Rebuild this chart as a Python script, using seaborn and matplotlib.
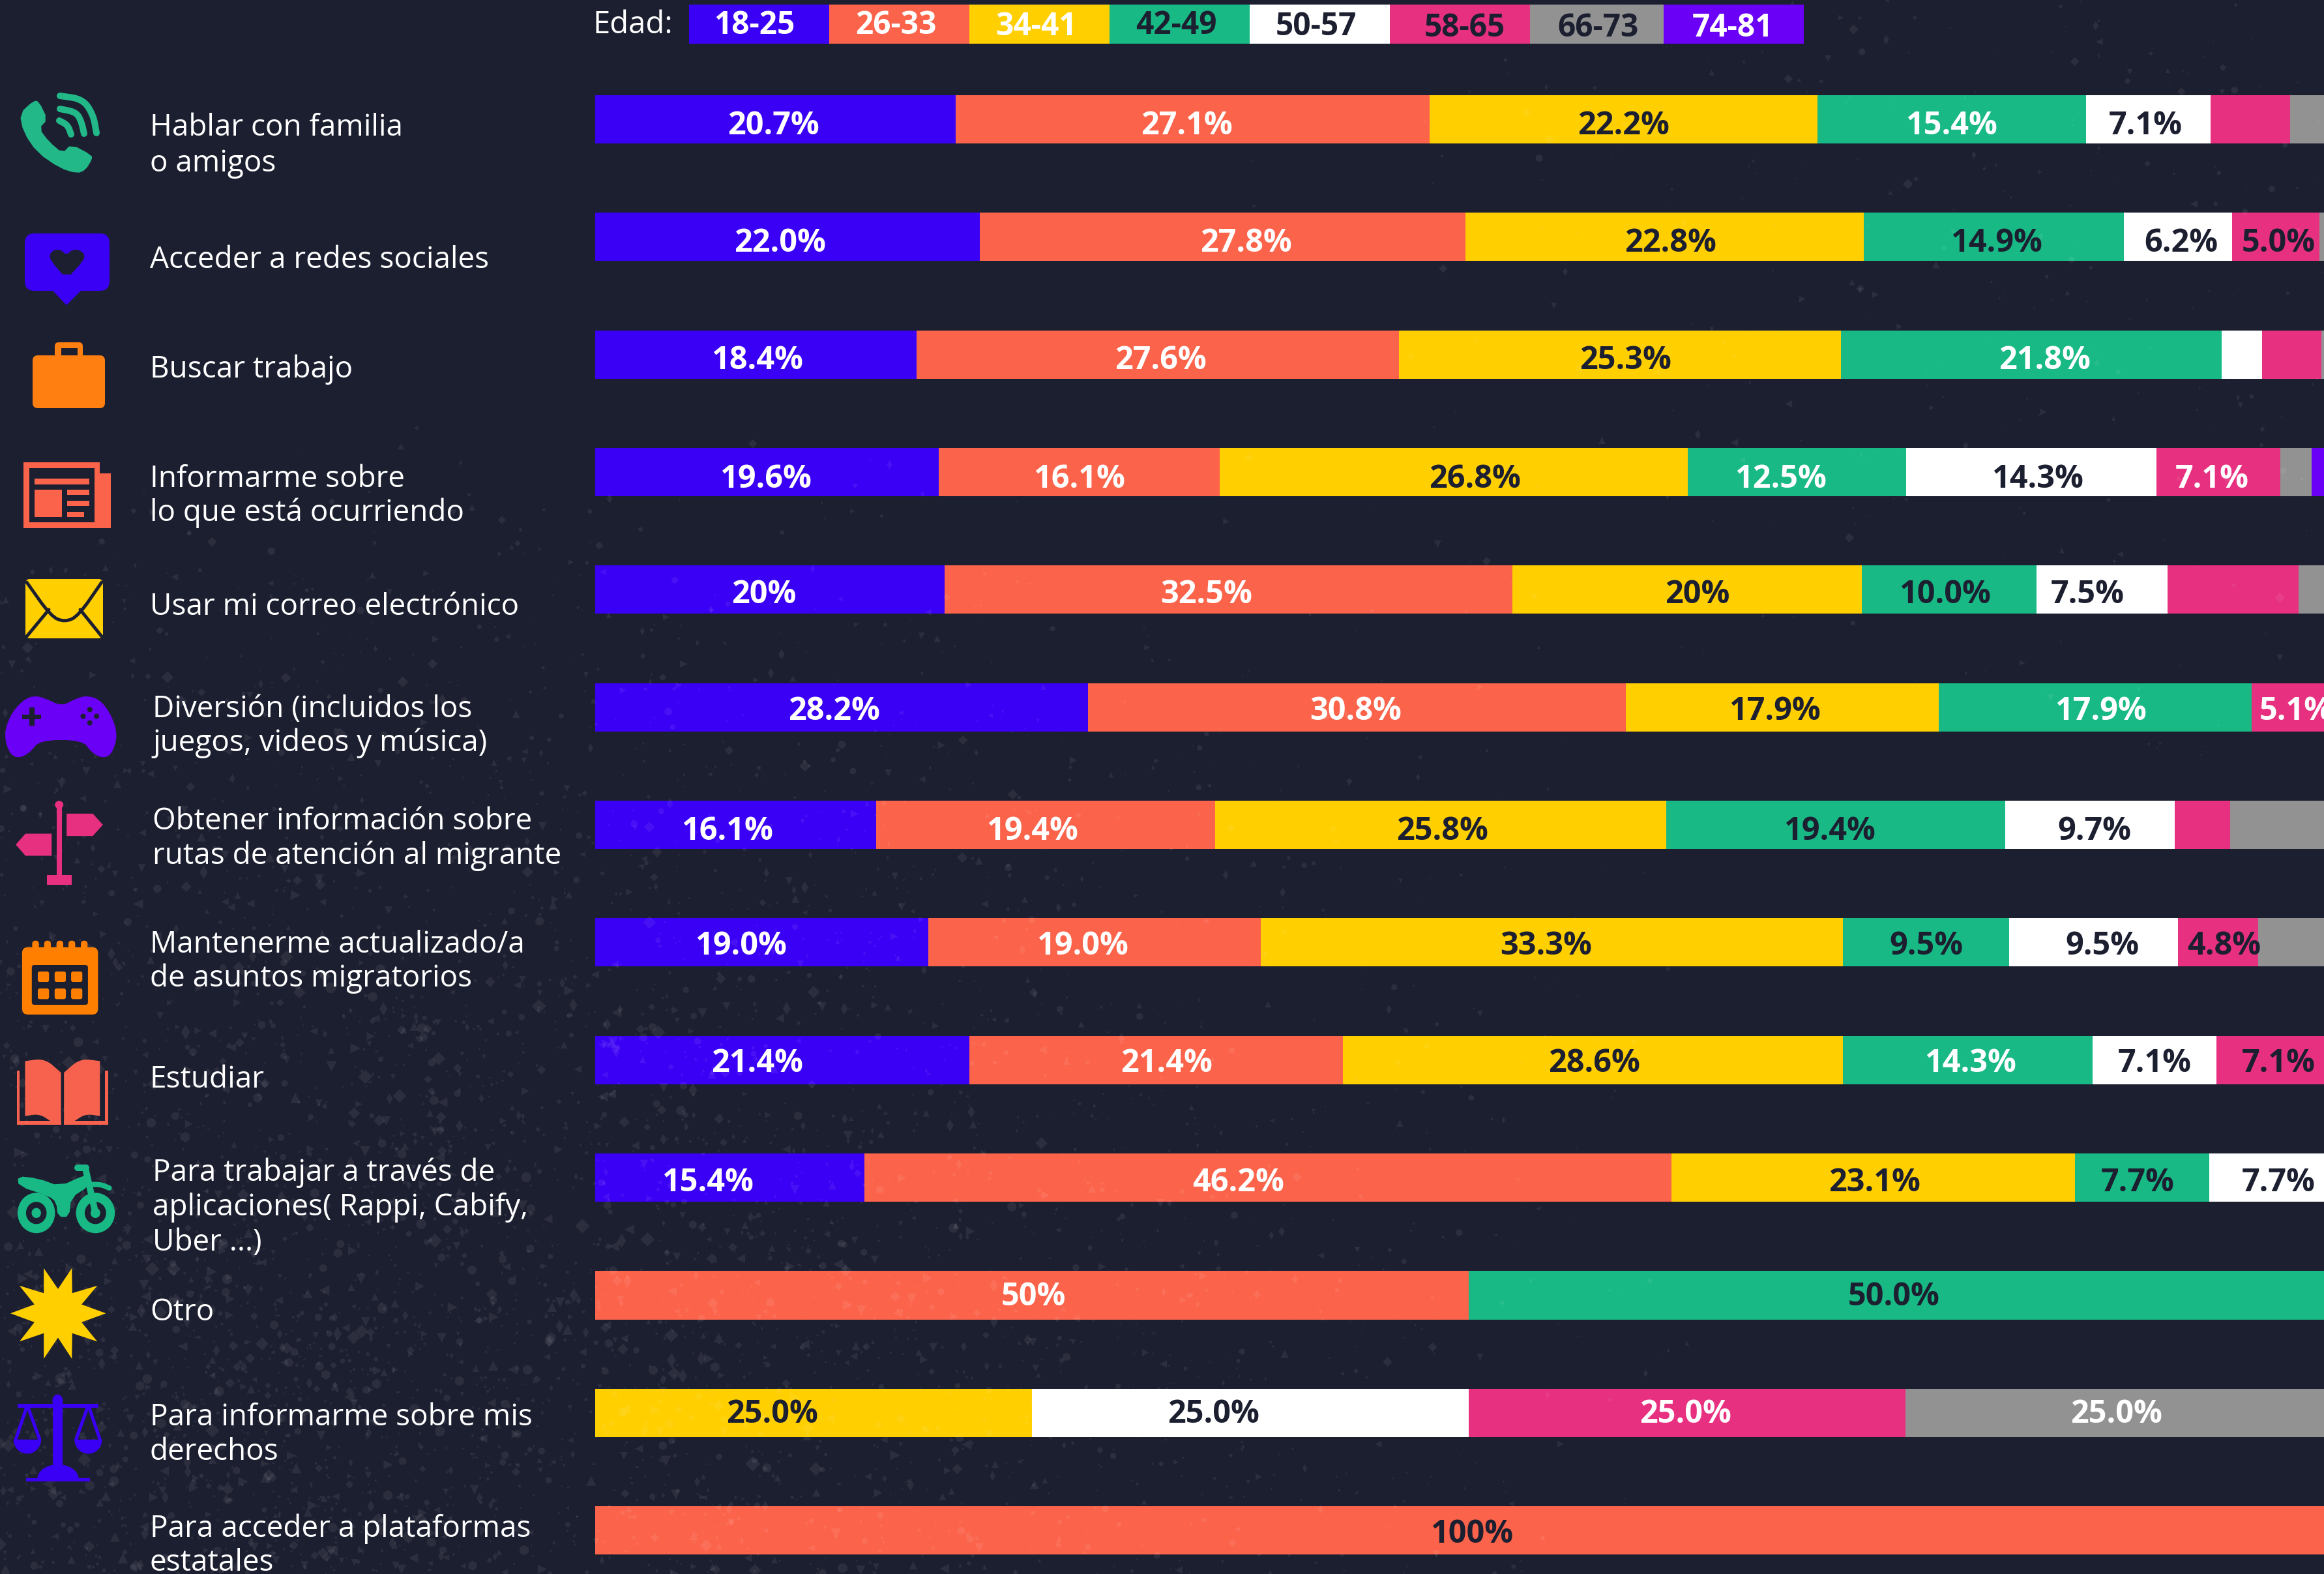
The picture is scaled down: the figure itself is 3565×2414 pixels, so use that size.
import numpy as np
import pandas as pd
import matplotlib
matplotlib.use("Agg")
import matplotlib.pyplot as plt
from matplotlib.patches import Polygon, Rectangle, Ellipse, FancyBboxPatch
from matplotlib.lines import Line2D
import seaborn as sns

BG = "#1c1f30"
DARK = "#1c1f30"

# ---------- data ----------
ages = ["18-25", "26-33", "34-41", "42-49", "50-57", "58-65", "66-73", "74-81"]
colors = ["#3a00f5", "#fb634b", "#ffcf00", "#18b985", "#ffffff", "#e7307f", "#929292", "#6a00f5"]

rows = ["Hablar con familia\no amigos", "Acceder a redes sociales", "Buscar trabajo",
        "Informarme sobre\nlo que está ocurriendo", "Usar mi correo electrónico",
        "Diversión (incluidos los\njuegos, videos y música)",
        "Obtener información sobre\nrutas de atención al migrante",
        "Mantenerme actualizado/a\nde asuntos migratorios", "Estudiar",
        "Para trabajar a través de\naplicaciones( Rappi, Cabify,\nUber ...)", "Otro",
        "Para informarme sobre mis\nderechos", "Para acceder a plataformas\nestatales"]

v_18_25 = [20.65, 22.0, 18.4, 19.65, 20.0, 28.2, 16.1, 19.05, 21.4, 15.4, 0, 0, 0]
v_26_33 = [27.1, 27.8, 27.6, 16.1, 32.5, 30.8, 19.4, 19.05, 21.4, 46.2, 50.0, 0, 100.0]
v_34_41 = [22.2, 22.8, 25.3, 26.8, 20.0, 17.9, 25.8, 33.3, 28.6, 23.1, 0, 25.0, 0]
v_42_49 = [15.4, 14.9, 21.8, 12.5, 10.0, 17.9, 19.4, 9.55, 14.3, 7.7, 50.0, 0, 0]
v_50_57 = [7.1, 6.2, 2.3, 14.3, 7.5, 0, 9.7, 9.65, 7.1, 7.7, 0, 25.0, 0]
v_58_65 = [4.55, 5.0, 3.4, 7.1, 7.5, 5.1, 3.2, 4.6, 7.1, 0, 0, 25.0, 0]
v_66_73 = [3.0, 1.2, 1.2, 1.8, 2.5, 0, 6.4, 4.8, 0, 0, 0, 25.0, 0]
v_74_81 = [0, 0, 0, 1.8, 0, 0, 0, 0, 0, 0, 0, 0, 0]
series = [v_18_25, v_26_33, v_34_41, v_42_49, v_50_57, v_58_65, v_66_73, v_74_81]

# printed labels per row (None = segment carries no printed label)
lab_18_25 = ["20.7%", "22.0%", "18.4%", "19.6%", "20%", "28.2%", "16.1%", "19.0%", "21.4%", "15.4%", None, None, None]
lab_26_33 = ["27.1%", "27.8%", "27.6%", "16.1%", "32.5%", "30.8%", "19.4%", "19.0%", "21.4%", "46.2%", "50%", None, "100%"]
lab_34_41 = ["22.2%", "22.8%", "25.3%", "26.8%", "20%", "17.9%", "25.8%", "33.3%", "28.6%", "23.1%", None, "25.0%", None]
lab_42_49 = ["15.4%", "14.9%", "21.8%", "12.5%", "10.0%", "17.9%", "19.4%", "9.5%", "14.3%", "7.7%", "50.0%", None, None]
lab_50_57 = ["7.1%", "6.2%", None, "14.3%", "7.5%", None, "9.7%", "9.5%", "7.1%", "7.7%", None, "25.0%", None]
lab_58_65 = [None, "5.0%", None, "7.1%", None, "5.1%", None, "4.8%", "7.1%", None, None, "25.0%", None]
lab_66_73 = [None, None, None, None, None, None, None, None, None, None, None, "25.0%", None]
label_sets = [lab_18_25, lab_26_33, lab_34_41, lab_42_49, lab_50_57, lab_58_65, lab_66_73]

# ---------- styling tables (not data) ----------
W, D = "#ffffff", DARK
label_ink = [
    [W, W, D, W, D], [W, W, D, D, D, D], [W, W, D, W], [W, W, D, W, D, W], [W, W, D, D, D],
    [W, W, D, W, W], [W, W, D, D, D], [W, W, D, D, D, D], [W, W, D, W, D, D], [W, W, D, D, D],
    [W, D], [D, D, W, W], [D]]
label_shift = [   # horizontal nudge of each printed label, in reference px/2.27
    [-1.5, -4, 0, 0, -2], [-5, 16, 4, 2, 2, 2], [1, 2, 4, 9], [-1, 0, 14, -11, 4, -4], [-4, -15, 7, -3, -10],
    [-5, -1, -5, 4, 0], [-6, -9, 1, -4, 3], [-14, -8, -4, 0, 6, 4], [-17, 7, 1, 2, 0, 0], [-15, -20, 1, -3, 1],
    [1, -8], [-28, -25, -1, -5], [2]]
label_lift = [7, 7, 7, 8, 5, 4, 7, 3, 3, 5, 0, 0, 3]
legend_edges = [1057, 1272, 1487, 1702, 1917, 2132, 2347, 2552, 2767]
legend_ink = [W, W, W, D, D, D, D, W]
legend_dx = [-7, -5, -5, -5, -6, 7, 2, -2]
legend_y = [39, 39, 42, 39, 42, 43, 43, 43]
text_lines = [[(230, 85), (230, 109)], [(230, 174)], [(230, 248)], [(230, 322), (230, 345)], [(230, 408)],
              [(234, 477), (234, 500)], [(234, 553), (234, 576)], [(230, 636), (230, 659)], [(230, 727)],
              [(234, 790), (234, 813), (234, 837)], [(230, 884)], [(230, 955), (230, 978)], [(230, 1030), (230, 1053)]]

PW, PH = 3565, 2414
X0 = 913
PX_PER_PCT = 26.8
ROW0 = 183
ROW_STEP = 180.35
BAR_H = 74
FONT = ["Open Sans", "DejaVu Sans"]

sns.set_theme(style="white")
plt.rcParams["font.family"] = FONT
fig = plt.figure(figsize=(PW / 100, PH / 100), dpi=100, facecolor=BG)

over = fig.add_axes([0, 0, 1, 1], zorder=3)
over.set_xlim(0, PW)
over.set_ylim(PH, 0)
over.axis("off")
over.patch.set_alpha(0)

ax = fig.add_axes([X0 / PW, 0, (PW - X0) / PW, 1], zorder=2)
ax.patch.set_alpha(0)

# stacked bars: cumulative totals painted from longest to shortest
cum = np.cumsum(np.array(series, dtype=float), axis=0)
df = pd.DataFrame({"row": rows})
for k, c in enumerate(colors[::-1]):
    idx = len(colors) - 1 - k
    df["total"] = cum[idx]
    sns.barplot(data=df, y="row", x="total", order=rows, color=c, saturation=1,
                width=BAR_H / ROW_STEP, orient="h", ax=ax, linewidth=0, zorder=1 + k * 0.01)

ax.set_xlim(0, (PW - X0) / PX_PER_PCT)
ax.set_ylim((PH - ROW0) / ROW_STEP, -ROW0 / ROW_STEP)
ax.axis("off")

# printed percentages
for r in range(len(rows)):
    n = 0
    left = 0.0
    for s, labs in zip(series, label_sets):
        val = s[r]
        if labs[r] is not None:
            xc = left + val / 2 + label_shift[r][n] * 2.2737 / PX_PER_PCT
            ax.text(xc, r + (label_lift[r] + 3) / ROW_STEP, labs[r], color=label_ink[r][n],
                    ha="center", va="center", fontsize=35, fontweight="bold", zorder=6)
            n += 1
        left += val


def poly(pts, c, smooth=0, **kw):
    pts = np.array(pts, dtype=float)
    for _ in range(smooth):
        a, b = pts, np.roll(pts, -1, axis=0)
        pts = np.column_stack([0.75 * a + 0.25 * b, 0.25 * a + 0.75 * b]).reshape(-1, 2)
    over.add_patch(Polygon(pts, closed=True, fc=c, ec="none", **kw))


def zoomer(x0, y0, fx, fy):
    def f(pts):
        return [(x0 + p[0] / fx, y0 + p[1] / fy) for p in pts]
    return f


def rbox(x1, y1, x2, y2, r, c):
    over.add_patch(FancyBboxPatch((x1 + r, y1 + r), x2 - x1 - 2 * r, y2 - y1 - 2 * r,
                                  boxstyle=f"round,pad={r},rounding_size={r}", fc=c, ec="none"))


def line(pts, c, w, cap="round"):
    pts = np.array(pts, dtype=float)
    over.add_line(Line2D(pts[:, 0], pts[:, 1], color=c, lw=w * 0.72, solid_capstyle=cap, solid_joinstyle="round"))


def curve(p, n=3):
    p = np.array(p, dtype=float)
    for _ in range(n):
        q = [p[0]]
        for a, b in zip(p[:-1], p[1:]):
            q += [0.75 * a + 0.25 * b, 0.25 * a + 0.75 * b]
        q.append(p[-1])
        p = np.array(q)
    return p


# --- background speckle (decoration only, no data): fixed hash of an index ---
seq = np.arange(1, 22000, dtype=float)
def hashed(k):
    v = np.sin(seq * k) * 43758.5453
    return v - np.floor(v)
sx, sy, uz, us = hashed(12.9898) * PW, hashed(78.233) * PH, hashed(37.719), hashed(4.1414)
dens_a = np.clip((sy - 650) / 1300, 0, 1) * np.clip((2700 - sx) / 2000, 0, 1) ** 1.3
dens_b = np.clip((sx - 1800) / 1400, 0, 1) * np.clip((1250 - sy) / 600, 0, 1) * 0.13
keep = uz < np.maximum(dens_a, dens_b)
sizes = (6 + 130 * us ** 4) * np.where(dens_a > dens_b, 0.35 + 0.65 * np.clip(dens_a * 1.5, 0, 1), 0.5)
marks = ["^", "d", "v", "o", "<", "h", "D", ">"]
kinds = (seq % len(marks)).astype(int)
for i, m in enumerate(marks):
    sel = keep & (kinds == i)
    ax.scatter(sx[sel], sy[sel], s=sizes[sel], marker=m, c="#ffffff", alpha=0.07,
               linewidths=0, transform=over.transData, zorder=3, clip_on=False)
ax.set_xlim(0, (PW - X0) / PX_PER_PCT)
ax.set_ylim((PH - ROW0) / ROW_STEP, -ROW0 / ROW_STEP)

# --- legend ---
over.text(909, 38, "Edad:", color="white", fontsize=34, ha="left", va="center")
for i, a in enumerate(ages):
    over.add_patch(Rectangle((legend_edges[i], 7), legend_edges[i + 1] - legend_edges[i], 60, fc=colors[i], ec="none"))
    over.text((legend_edges[i] + legend_edges[i + 1]) / 2 + legend_dx[i], legend_y[i], a, color=legend_ink[i],
              fontsize=34.5, fontweight="bold", ha="center", va="center")

# --- row texts ---
for r, lines_ in enumerate(text_lines):
    for txt, (x, yc) in zip(rows[r].split("\n"), lines_):
        over.text(x, yc * 2.2737 + 15, txt, color="white", fontsize=33, ha="left", va="baseline")

# --- icons ---
# phone
GREEN = "#22b888"
poly([(30, 174), (52, 154), (60, 156), (73, 183), (60, 197), (75, 217), (96, 235), (109, 221), (141, 238),
      (141, 245), (131, 261), (118, 266), (92, 258), (57, 234), (36, 203)], GREEN, smooth=1)
line(curve([(92, 147), (127, 152), (143, 176), (148, 204)]), GREEN, 10)
line(curve([(92, 167), (117, 172), (125, 187), (129, 205)]), GREEN, 10)
line(curve([(91, 185), (104, 192), (109, 206)]), GREEN, 10)

# heart bubble
C = "#3a00f5"
rbox(38, 358, 168, 446, 15, C)
poly([(80, 445), (125, 445), (102, 468)], C)
poly([(102, 428), (78, 400), (76, 390), (83, 383), (93, 383), (102, 391), (111, 383), (121, 383), (130, 390),
      (128, 400)], BG, smooth=1)

# briefcase
C = "#ff7f11"
rbox(84, 525, 127, 560, 6, C)
over.add_patch(Rectangle((94, 534), 25, 14, fc=BG, ec="none"))
rbox(50, 545, 161, 626, 8, C)

# newspaper
C = "#fb634b"
over.add_patch(Rectangle((36, 709), 117, 101, fc=C, ec="none"))
over.add_patch(Rectangle((150, 726), 20, 84, fc=C, ec="none"))
over.add_patch(Rectangle((45, 718), 100, 83, fc=BG, ec="none"))
for x1, y1, x2, y2 in [(53, 734, 137, 743), (53, 751, 95, 793), (103, 751, 137, 759), (103, 768, 137, 776),
                       (103, 785, 129, 793)]:
    over.add_patch(Rectangle((x1, y1), x2 - x1, y2 - y1, fc=C, ec="none"))

# envelope
rbox(39, 888, 158, 979, 7, "#ffcf00")
line(curve([(41, 893), (78, 945), (99, 954), (120, 945), (156, 893)], 2), BG, 5)
line([(75, 935), (41, 976)], BG, 5)
line([(123, 935), (156, 976)], BG, 5)

# gamepad
C = "#6a00f5"
z = zoomer(0, 840, 1.742, 2.8)
poly(z([(95, 635), (125, 650), (165, 680), (200, 650), (230, 635), (265, 650), (295, 710), (315, 800), (300, 885),
        (275, 905), (245, 880), (220, 826), (107, 826), (80, 880), (50, 905), (25, 885), (10, 800), (30, 710),
        (65, 650)]), C, smooth=2)
for (a, b, c_, d) in [(78, 685, 92, 765), (60, 716, 110, 735)]:
    p = z([(a, b), (c_, d)])
    over.add_patch(Rectangle(p[0], p[1][0] - p[0][0], p[1][1] - p[0][1], fc=BG, ec="none"))
for cx, cy in [(240, 695), (222, 724), (258, 724), (240, 752)]:
    p = z([(cx, cy)])[0]
    over.add_patch(Ellipse(p, 8, 8, fc=BG, ec="none"))

# signpost
C = "#e7307f"
poly(z([(152, 1100), (166, 1100), (166, 1410), (152, 1410)]), C)
poly(z([(125, 1405), (192, 1405), (192, 1447), (125, 1447)]), C)
p = z([(158, 1104)])[0]
over.add_patch(Ellipse(p, 13, 12, fc=C, ec="none"))
poly(z([(178, 1142), (248, 1142), (275, 1190), (248, 1238), (178, 1238)]), C)
poly(z([(138, 1228), (68, 1228), (42, 1275), (68, 1323), (138, 1323)]), C)

# calendar
C = "#ff8000"
z = zoomer(0, 1400, 1.742, 3)
a = z([(59, 158), (262, 468)])
rbox(a[0][0], a[0][1], a[1][0], a[1][1], 9, C)
for X in (95, 127, 160, 192, 225):
    b = z([(X - 9, 128), (X + 9, 170)])
    rbox(b[0][0], b[0][1], b[1][0], b[1][1], 5, C)
a = z([(85, 240), (235, 423)])
rbox(a[0][0], a[0][1], a[1][0], a[1][1], 4, BG)
for Y1, Y2 in [(270, 318), (348, 397)]:
    for X1, X2 in [(101, 131), (146, 176), (190, 220)]:
        b = z([(X1, Y1), (X2, Y2)])
        rbox(b[0][0], b[0][1], b[1][0], b[1][1], 3, C)

# book
C = "#f7624f"
poly(z(np.vstack([curve([(67, 682), (120, 670), (163, 735)]), [(163, 975)],
                  curve([(135, 958), (105, 925), (67, 935)])])), C)
poly(z(np.vstack([curve([(267, 682), (214, 670), (171, 735)]), [(171, 975)],
                  curve([(199, 958), (229, 925), (267, 935)])])), C)
poly(z([(45, 725), (53, 725), (53, 958), (163, 958), (163, 975), (45, 975)]), C)
poly(z([(289, 725), (281, 725), (281, 958), (171, 958), (171, 975), (289, 975)]), C)

# motorcycle
C = "#18b985"
z = zoomer(0, 1700, 1.742, 2.196)
for cx, rx in [(97, 50), (255, 52)]:
    p = z([(cx, 352)])[0]
    r = rx / 1.742
    over.add_patch(Ellipse(p, 2 * r, 2 * 68 / 2.196, fc=C, ec="none"))
    over.add_patch(Ellipse(p, 1.1 * r, 1.1 * 68 / 2.196, fc=BG, ec="none"))
    over.add_patch(Ellipse(p, 0.5 * r, 0.5 * 68 / 2.196, fc=C, ec="none"))
poly(z([(47, 228), (100, 235), (160, 262), (225, 225), (240, 225), (238, 262), (190, 300), (185, 365), (155, 365),
        (150, 315), (130, 295), (50, 262)]), C, smooth=1)
line(z([(228, 200), (253, 340)]), C, 10)
line(z([(207, 200), (230, 200)]), C, 10)
line(curve(z([(240, 256), (270, 256), (292, 268)])), C, 8)

# burst
poly(z([(117, 538), (155, 608), (192, 538), (193, 622), (260, 597), (218, 660), (283, 690), (218, 720), (260, 785),
        (193, 757), (192, 843), (155, 772), (117, 843), (117, 757), (52, 785), (92, 720), (28, 690), (92, 660),
        (52, 597), (117, 622)]), "#ffcf00")

# scales
C = "#3a00f5"
poly(z([(141, 985), (168, 985), (168, 1230), (141, 1230)]), C)
over.add_patch(Ellipse(z([(154, 985)])[0], 16, 20, fc=C, ec="none"))
poly(z([(47, 995), (263, 995), (263, 1007), (47, 1007)]), C)
line(z([(70, 1010), (42, 1115)]), C, 5)
line(z([(76, 1010), (106, 1115)]), C, 5)
line(z([(233, 1010), (203, 1115)]), C, 5)
line(z([(239, 1010), (267, 1115)]), C, 5)
for cx in (73, 236):
    pts = [(cx + 37 * np.cos(t), 1115 + 48 * np.sin(t)) for t in np.linspace(0, np.pi, 24)]
    poly(z(pts), C)
pts = [(155 + 55 * np.cos(t), 1247 - 48 * np.sin(t)) for t in np.linspace(0, np.pi, 24)]
poly(z(pts), C)
poly(z([(70, 1245), (240, 1245), (240, 1256), (70, 1256)]), C)

fig.savefig("out.png", dpi=100, facecolor=BG)
